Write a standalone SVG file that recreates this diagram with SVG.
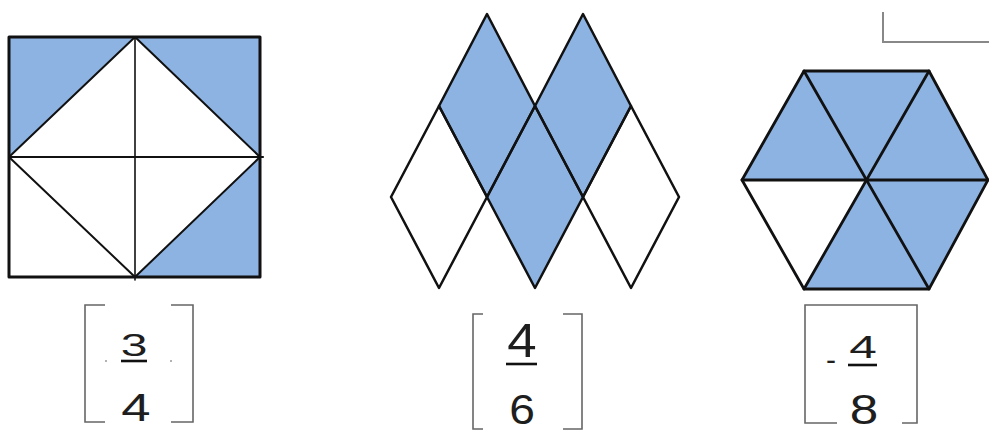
<svg xmlns="http://www.w3.org/2000/svg" width="989" height="433" viewBox="0 0 989 433">
<style>
.blue{fill:#8DB3E2;stroke:none}
.sh{stroke:#111;stroke-linejoin:round;stroke-linecap:round}
.br{fill:none;stroke:#666;stroke-width:1.6}
.num{font-family:"Liberation Sans",Arial,sans-serif;fill:#1e1e1e;text-anchor:middle}
.ul{stroke:#111;stroke-width:2.6}
</style>
<rect width="989" height="433" fill="#fff"/>
<g id="square">
  <polygon class="blue" points="9,37 135,37 9,157"/>
  <polygon class="blue" points="135,37 260,37 260,157"/>
  <polygon class="blue" points="260,157 260,277 135,277"/>
  <polygon class="sh" fill="none" stroke-width="2" points="135,37 260,157 135,277 9,157"/>
  <line class="sh" stroke-width="1.6" x1="135" y1="37" x2="135" y2="280"/>
  <line class="sh" stroke-width="2.2" x1="9" y1="157" x2="263" y2="157"/>
  <rect class="sh" fill="none" stroke-width="3" x="9" y="37" width="251" height="240"/>
</g>
<g id="rhombi">
  <polygon class="blue" points="487,14 535,106 487,197 439,106"/>
  <polygon class="blue" points="583,14 631,106 583,197 535,106"/>
  <polygon class="blue" points="535,106 583,197 535,288 487,197"/>
  <g class="sh" fill="none" stroke-width="2.5">
    <polygon points="487,14 535,106 487,197 439,106"/>
    <polygon points="583,14 631,106 583,197 535,106"/>
    <polygon points="535,106 583,197 535,288 487,197"/>
    <polygon points="439,106 487,197 439,288 391,197"/>
    <polygon points="631,106 679,197 631,288 583,197"/>
  </g>
</g>
<g id="hexagon">
  <polygon class="blue" points="804,71 929,71 988,180 929,289 804,289 866,180 742,180"/>
  <g class="sh" fill="none" stroke-width="2.8">
    <polygon points="804,71 929,71 988,180 929,289 804,289 742,180"/>
    <line x1="804" y1="71" x2="929" y2="289"/>
    <line x1="929" y1="71" x2="804" y2="289"/>
    <line x1="742" y1="180" x2="988" y2="180"/>
  </g>
</g>
<g id="corner">
  <polyline points="883,12 883,42 989,42" fill="none" stroke="#888" stroke-width="2"/>
</g>
<g id="frac1">
  <path class="br" d="M105,305 H85 V422 H105 M171,305 H193 V422 H171"/>
  <text class="num" font-size="32" transform="translate(134,356) scale(1.5,1)">3</text>
  <line class="ul" x1="121" y1="361" x2="147" y2="361"/>
  <circle cx="106" cy="361" r="1" fill="#999"/>
  <circle cx="171" cy="361" r="1" fill="#999"/>
  <text class="num" font-size="39" transform="translate(136,421) scale(1.35,1)">4</text>
</g>
<g id="frac2">
  <path class="br" d="M483,314 H473 V429 H483 M563,314 H582 V429 H563"/>
  <text class="num" font-size="48" transform="translate(522,357) scale(1.1,1)">4</text>
  <line class="ul" x1="506" y1="364" x2="537" y2="364" stroke-width="3"/>
  <text class="num" font-size="42" transform="translate(522,424) scale(1.1,1)">6</text>
</g>
<g id="frac3">
  <path class="br" d="M837,423 H805 V305 H917 V423 H902"/>
  <text class="num" font-size="30" x="831" y="370">-</text>
  <text class="num" font-size="32" transform="translate(863,358) scale(1.55,1)">4</text>
  <line class="ul" x1="848" y1="365" x2="877" y2="365" stroke-width="3"/>
  <text class="num" font-size="42" transform="translate(864,424) scale(1.22,1)">8</text>
</g>
</svg>
